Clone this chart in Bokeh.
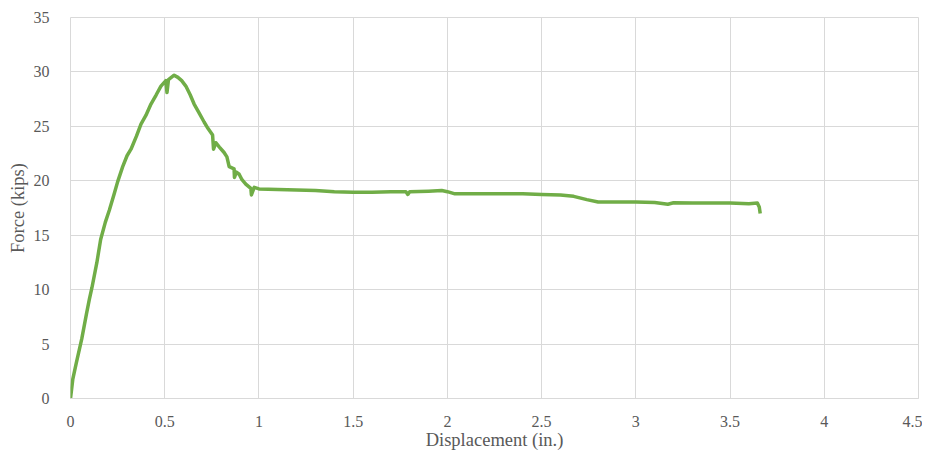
from bokeh.plotting import figure
from bokeh.models import FixedTicker, Range1d
from bokeh.embed import file_html
from bokeh.resources import INLINE

# Data (displacement in inches, force in kips)
displacement = [0, 0.012, 0.03, 0.06, 0.085, 0.1, 0.114, 0.14, 0.16, 0.185,
                0.206, 0.232, 0.25, 0.277, 0.30, 0.321, 0.35, 0.374, 0.40, 0.427,
                0.455, 0.48, 0.506, 0.512, 0.52, 0.535, 0.55, 0.57, 0.59, 0.612,
                0.635, 0.656, 0.68, 0.709, 0.73, 0.754, 0.759, 0.771, 0.79, 0.815,
                0.83, 0.842, 0.868, 0.870, 0.88, 0.895, 0.91, 0.93, 0.957, 0.96,
                0.975, 1.0, 1.1, 1.2, 1.3, 1.4, 1.5, 1.6, 1.7, 1.78,
                1.79, 1.80, 1.9, 1.97, 2.0, 2.04, 2.1, 2.2, 2.3, 2.4,
                2.5, 2.6, 2.67, 2.74, 2.8, 2.9, 3.0, 3.1, 3.17, 3.2,
                3.3, 3.4, 3.5, 3.6, 3.645, 3.655, 3.66]
force = [0, 1.75, 3.2, 5.5, 7.8, 9.1, 10.2, 12.5, 14.6, 16.2,
         17.3, 18.8, 19.9, 21.3, 22.3, 22.9, 24.1, 25.2, 26.0, 27.05,
         27.9, 28.7, 29.2, 28.1, 29.3, 29.5, 29.7, 29.5, 29.2, 28.7,
         27.9, 27.05, 26.3, 25.4, 24.8, 24.2, 22.9, 23.5, 23.1, 22.6,
         22.2, 21.3, 21.1, 20.3, 20.8, 20.6, 20.1, 19.7, 19.3, 18.7,
         19.4, 19.25, 19.2, 19.15, 19.1, 19.0, 18.95, 18.95, 19.0, 19.0,
         18.75, 19.0, 19.05, 19.1, 19.0, 18.8, 18.8, 18.8, 18.8, 18.8,
         18.75, 18.7, 18.57, 18.27, 18.05, 18.05, 18.05, 18.0, 17.85, 17.98,
         17.95, 17.95, 17.95, 17.9, 17.95, 17.6, 17.0]

x_ticks = [0, 0.5, 1, 1.5, 2, 2.5, 3, 3.5, 4, 4.5]
x_tick_labels = ["0", "0.5", "1", "1.5", "2", "2.5", "3", "3.5", "4", "4.5"]
y_ticks = [0, 5, 10, 15, 20, 25, 30, 35]
y_tick_labels = ["0", "5", "10", "15", "20", "25", "30", "35"]

GREEN = "#70AD47"
GRID = "#D9D9D9"
TEXT = "#595959"
FONT = "Liberation Serif"

p = figure(width=922, height=452, output_backend="svg", toolbar_location=None,
           x_range=Range1d(0, 4.5), y_range=Range1d(0, 35),
           min_border_left=70, min_border_right=4, min_border_top=17,
           min_border_bottom=53)

p.line(displacement, force, line_color=GREEN, line_width=3.5, line_join="round")

p.outline_line_color = GRID
p.background_fill_color = "white"
p.border_fill_color = "white"

p.xaxis.ticker = FixedTicker(ticks=x_ticks)
p.yaxis.ticker = FixedTicker(ticks=y_ticks)
p.xaxis.major_label_overrides = {t: l for t, l in zip(x_ticks, x_tick_labels)}
p.yaxis.major_label_overrides = {t: l for t, l in zip(y_ticks, y_tick_labels)}

for ax in (p.xaxis, p.yaxis):
    ax.major_tick_line_color = None
    ax.minor_tick_line_color = None
    ax.major_label_text_font = FONT
    ax.major_label_text_font_size = "16px"
    ax.major_label_text_color = TEXT
    ax.axis_label_text_font = FONT
    ax.axis_label_text_font_size = "18.5px"
    ax.axis_label_text_color = TEXT
    ax.axis_label_text_font_style = "normal"

p.xaxis.axis_line_color = GRID
p.yaxis.axis_line_color = None
p.xaxis.major_label_standoff = 11
p.yaxis.major_label_standoff = 15
p.xaxis.axis_label = "Displacement (in.)"
p.yaxis.axis_label = "Force (kips)"
p.xaxis.axis_label_standoff = 0
p.yaxis.axis_label_standoff = 3

p.xgrid.ticker = FixedTicker(ticks=x_ticks)
p.ygrid.ticker = FixedTicker(ticks=y_ticks)
p.grid.grid_line_color = GRID
p.grid.grid_line_width = 1

open("out.html", "w").write(file_html(p, INLINE))
